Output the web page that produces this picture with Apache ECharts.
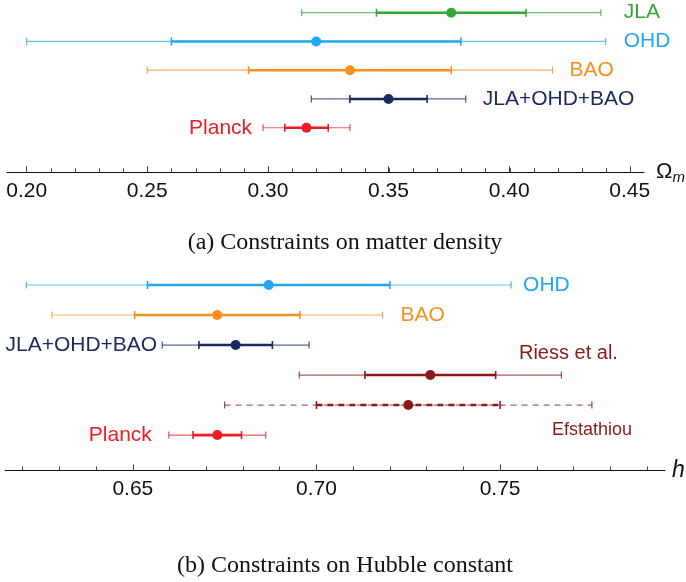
<!DOCTYPE html>
<html><head><meta charset="utf-8">
<script src="https://cdn.jsdelivr.net/npm/echarts@6/dist/echarts.min.js"></script>
<style>html,body{margin:0;padding:0;background:#fff}#c{width:686px;height:582px}</style>
</head><body><div id="c"></div><script>
// ---- Data: (a) matter density Ω_m ----
const topNames  = ['JLA', 'OHD', 'BAO', 'JLA+OHD+BAO', 'Planck'];
const topCenter = [0.376, 0.320, 0.334, 0.350, 0.316];
const topSigma1 = [0.031, 0.060, 0.042, 0.016, 0.009];
const topSigma2 = [0.062, 0.120, 0.084, 0.032, 0.018];
const topMajorTicks = [0.20, 0.25, 0.30, 0.35, 0.40, 0.45];
const topMinorTicks = [0.20,0.21,0.22,0.23,0.24,0.25,0.26,0.27,0.28,0.29,0.30,0.31,0.32,0.33,0.34,0.35,0.36,0.37,0.38,0.39,0.40,0.41,0.42,0.43,0.44,0.45];

// ---- Data: (b) Hubble constant h ----
const botNames  = ['OHD', 'BAO', 'JLA+OHD+BAO', 'Riess et al.', 'Efstathiou', 'Planck'];
const botCenter = [0.687, 0.673, 0.678, 0.731, 0.725, 0.673];
const botSigma1 = [0.033, 0.0225, 0.010, 0.0178, 0.025, 0.0066];
const botSigma2 = [0.066, 0.045, 0.020, 0.0357, 0.050, 0.0132];
const botMajorTicks = [0.65, 0.70, 0.75];
const botMinorTicks = [0.62,0.63,0.64,0.65,0.66,0.67,0.68,0.69,0.70,0.71,0.72,0.73,0.74,0.75,0.76,0.77,0.78,0.79];

// ---- Styles ----
const GREEN='#34a835', BLUE='#22a8f0', ORANGE='#f7901e', NAVY='#1b2a5e', RED='#ee1c24', DARKRED='#8a1a1a';
const topStyle = [
  {color:GREEN,  pos:'right', gap:23},
  {color:BLUE,   pos:'right', gap:18},
  {color:ORANGE, pos:'right', gap:17},
  {color:NAVY,   pos:'right', gap:17},
  {color:RED,    pos:'left',  gap:11}
];
const botStyle = [
  {color:BLUE,    pos:'right', gap:12},
  {color:ORANGE,  pos:'right', gap:18},
  {color:NAVY,    pos:'left',  gap:5},
  {color:DARKRED, pos:'free',  dx:7, dy:-22, size:20},
  {color:DARKRED, pos:'free',  dx:0, dy:25, size:18, dashed:true},
  {color:RED,     pos:'left',  gap:17}
];
const SANS = '"Liberation Sans", Arial, Helvetica, sans-serif';
const SERIF = '"Liberation Serif", "Times New Roman", serif';

function makeRender(styles, names) {
  return function (params, api) {
    const i = params.dataIndex, st = styles[i];
    const c = api.value(0), s1 = api.value(1), s2 = api.value(2), r = api.value(3);
    const L2 = api.coord([c - s2, r]), L1 = api.coord([c - s1, r]);
    const C = api.coord([c, r]);
    const R1 = api.coord([c + s1, r]), R2 = api.coord([c + s2, r]);
    const y = C[1];
    const dash = st.dashed ? [6, 5] : null;
    const cap = (p, h, w, op) => ({type:'line', shape:{x1:p[0], y1:y-h, x2:p[0], y2:y+h},
      style:{stroke:st.color, lineWidth:w, opacity:op}});
    const fs = st.size || 21;
    let tx, ty = y, al;
    if (st.pos === 'right') { tx = R2[0] + st.gap; al = 'left'; }
    else if (st.pos === 'left') { tx = L2[0] - st.gap; al = 'right'; }
    else { tx = R2[0] + st.dx; ty = y + st.dy; al = 'center'; }
    return {type:'group', children:[
      {type:'line', shape:{x1:L2[0], y1:y, x2:R2[0], y2:y},
        style:{stroke:st.color, lineWidth:1.2, opacity:0.7, lineDash:dash}},
      {type:'line', shape:{x1:L1[0], y1:y, x2:R1[0], y2:y},
        style:{stroke:st.color, lineWidth:2.6, lineDash:dash}},
      cap(L2, 3.5, 1.2, 0.8), cap(R2, 3.5, 1.2, 0.8),
      cap(L1, 4, 1.6, 1), cap(R1, 4, 1.6, 1),
      {type:'circle', shape:{cx:C[0], cy:y, r:5}, style:{fill:st.color}},
      {type:'text', style:{text:names[i], x:tx, y:ty, fill:st.color,
        fontSize:fs, fontFamily:SANS, align:al, verticalAlign:'middle'}}
    ]};
  };
}

const topData = topNames.map((n, i) => [topCenter[i], topSigma1[i], topSigma2[i], i]);
const botData = botNames.map((n, i) => [botCenter[i], botSigma1[i], botSigma2[i], i]);

const fmt = v => Number(v).toFixed(2);
function majorAxis(grid, min, max, ticks, name, rich, gap) {
  return {
    type:'value', gridIndex:grid, min, max, position:'bottom',
    axisLine:{show:true, onZero:false, lineStyle:{color:'#111', width:1}},
    axisTick:{show:true, inside:true, length:6, customValues:ticks, lineStyle:{color:'#333', width:1}},
    axisLabel:{show:true, customValues:ticks, formatter:fmt, fontSize:21, fontFamily:SANS, color:'#111', margin:8},
    splitLine:{show:false},
    name, nameLocation:'end', nameGap:gap, nameTextStyle:{rich}
  };
}
function minorAxis(grid, min, max, ticks) {
  return {
    type:'value', gridIndex:grid, min, max, position:'bottom',
    axisLine:{show:false},
    axisTick:{show:true, inside:true, length:4, customValues:ticks, lineStyle:{color:'#444', width:1}},
    axisLabel:{show:false}, splitLine:{show:false}
  };
}

const chart = echarts.init(document.getElementById('c'), null, {renderer:'canvas'});
chart.setOption({
  animation:false,
  backgroundColor:'#fff',
  grid:[
    {left:7, top:12.7, width:638, height:159.6},
    {left:5, top:285, width:660, height:185.5},
    {left:7, top:171.3, width:638, height:1},
    {left:5, top:469.5, width:660, height:1}
  ],
  xAxis:[
    majorAxis(0, 0.19185, 0.45592, topMajorTicks, '{o|Ω}{m|m}',
      {o:{fontSize:22, fontFamily:SANS, color:'#111'},
       m:{fontSize:15, fontFamily:SANS, fontStyle:'italic', color:'#111', padding:[12,0,0,0]}}, 12),
    majorAxis(1, 0.6152, 0.7949, botMajorTicks, '{h|h}',
      {h:{fontSize:23, fontFamily:SANS, fontStyle:'italic', color:'#111'}}, 7),
    minorAxis(2, 0.19185, 0.45592, topMinorTicks),
    minorAxis(3, 0.6152, 0.7949, botMinorTicks)
  ],
  yAxis:[
    {type:'value', gridIndex:0, min:0, max:5.55, inverse:true, show:false},
    {type:'value', gridIndex:1, min:0, max:6.18, inverse:true, show:false},
    {type:'value', gridIndex:2, min:0, max:1, show:false},
    {type:'value', gridIndex:3, min:0, max:1, show:false}
  ],
  series:[
    {type:'custom', xAxisIndex:0, yAxisIndex:0, data:topData, encode:{x:0, y:3},
      renderItem:makeRender(topStyle, topNames), clip:false},
    {type:'custom', xAxisIndex:1, yAxisIndex:1, data:botData, encode:{x:0, y:3},
      renderItem:makeRender(botStyle, botNames), clip:false}
  ],
  graphic:[
    {type:'text', x:345, y:243, style:{text:'(a) Constraints on matter density',
      fontSize:24, fontFamily:SERIF, fill:'#111', align:'center', verticalAlign:'middle'}},
    {type:'text', x:345, y:566, style:{text:'(b) Constraints on Hubble constant',
      fontSize:24, fontFamily:SERIF, fill:'#111', align:'center', verticalAlign:'middle'}}
  ]
});
</script></body></html>
